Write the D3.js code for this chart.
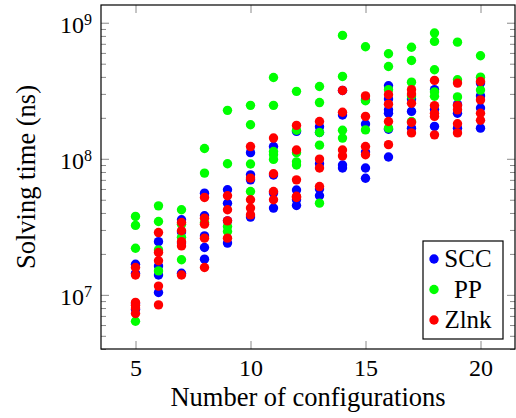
<!DOCTYPE html>
<html>
<head>
<meta charset="utf-8">
<script src="https://cdn.jsdelivr.net/npm/d3@7"></script>
<style>
body { margin: 0; background: #fff; }
svg text { fill: #000; }
</style>
</head>
<body>
<svg id="chart" width="516" height="418"></svg>
<script>
// [number of configurations, solving time in ns]
const sccData = [
  [5, 1.68e7], [5, 1.44e7], [5, 8.6e6], [5, 7.8e6],
  [6, 2.46e7], [6, 1.63e7], [6, 1.40e7], [6, 1.04e7],
  [7, 3.56e7], [7, 2.9e7], [7, 2.4e7], [7, 1.44e7],
  [8, 5.59e7], [8, 3.81e7], [8, 2.71e7], [8, 2.23e7], [8, 1.83e7],
  [9, 5.92e7], [9, 4.71e7], [9, 3.5e7], [9, 2.4e7],
  [10, 1.11e8], [10, 7.62e7], [10, 7.0e7], [10, 3.73e7],
  [11, 1.23e8], [11, 7.6e7], [11, 5.6e7], [11, 4.34e7],
  [12, 1.59e8], [12, 5.9e7], [12, 5.0e7], [12, 4.54e7],
  [13, 1.72e8], [13, 1.56e8], [13, 9.2e7], [13, 6.0e7], [13, 5.35e7],
  [14, 3.18e8], [14, 2.1e8], [14, 9.0e7], [14, 8.55e7],
  [15, 2.71e8], [15, 1.8e8], [15, 1.12e8], [15, 8.55e7], [15, 7.2e7],
  [16, 3.44e8], [16, 2.75e8], [16, 2.29e8], [16, 2.16e8], [16, 1.65e8], [16, 1.03e8],
  [17, 2.75e8], [17, 2.23e8], [17, 1.68e8],
  [18, 3.22e8], [18, 2.3e8], [18, 1.73e8],
  [19, 2.5e8], [19, 2.16e8], [19, 1.68e8],
  [20, 3.6e8], [20, 2.9e8], [20, 2.36e8], [20, 1.68e8]
];
const ppData = [
  [5, 3.77e7], [5, 3.24e7], [5, 2.2e7], [5, 6.4e6],
  [6, 4.51e7], [6, 3.46e7], [6, 2.14e7], [6, 1.50e7],
  [7, 4.22e7], [7, 3.3e7], [7, 2.65e7], [7, 1.81e7],
  [8, 1.19e8], [8, 7.85e7], [8, 3.4e7],
  [9, 2.27e8], [9, 9.19e7], [9, 3.18e7], [9, 2.92e7],
  [10, 2.47e8], [10, 1.78e8], [10, 9.15e7], [10, 5.75e7],
  [11, 3.96e8], [11, 2.47e8], [11, 1.13e8], [11, 1.07e8], [11, 9.9e7],
  [12, 3.13e8], [12, 1.62e8], [12, 1.11e8], [12, 9.5e7], [12, 9.0e7],
  [13, 3.4e8], [13, 2.59e8], [13, 1.56e8], [13, 1.26e8], [13, 4.72e7],
  [14, 8.07e8], [14, 4.03e8], [14, 1.62e8], [14, 1.42e8],
  [15, 6.66e8], [15, 2.67e8], [15, 1.63e8],
  [16, 5.92e8], [16, 4.77e8], [16, 3.22e8], [16, 1.68e8],
  [17, 6.6e8], [17, 5.28e8], [17, 3.66e8], [17, 2.9e8], [17, 1.88e8],
  [18, 8.4e8], [18, 7.29e8], [18, 4.51e8], [18, 3.1e8], [18, 2.88e8],
  [19, 7.2e8], [19, 3.81e8], [19, 2.85e8],
  [20, 5.72e8], [20, 3.98e8], [20, 3.2e8]
];
const zlnkData = [
  [5, 1.59e7], [5, 1.40e7], [5, 8.8e6], [5, 8.4e6], [5, 8.0e6], [5, 7.3e6],
  [6, 2.87e7], [6, 2.05e7], [6, 1.78e7], [6, 1.16e7], [6, 8.44e6],
  [7, 3.4e7], [7, 2.96e7], [7, 2.46e7], [7, 2.29e7], [7, 1.40e7],
  [8, 5.2e7], [8, 3.66e7], [8, 3.31e7], [8, 2.61e7], [8, 1.59e7],
  [9, 5.35e7], [9, 4.22e7], [9, 3.5e7], [9, 2.61e7],
  [10, 1.23e8], [10, 7.21e7], [10, 5.0e7], [10, 4.34e7], [10, 3.87e7],
  [11, 1.42e8], [11, 7.76e7], [11, 5.75e7], [11, 5.0e7],
  [12, 1.76e8], [12, 1.16e8], [12, 7.0e7], [12, 5.3e7], [12, 5.2e7],
  [13, 1.88e8], [13, 9.95e7], [13, 8.55e7], [13, 6.25e7],
  [14, 3.18e8], [14, 2.2e8], [14, 1.16e8], [14, 1.05e8],
  [15, 2.9e8], [15, 2.05e8], [15, 1.23e8], [15, 1.07e8],
  [16, 2.96e8], [16, 2.52e8], [16, 1.88e8], [16, 1.27e8],
  [17, 3.22e8], [17, 2.99e8], [17, 2.56e8], [17, 1.85e8], [17, 1.55e8],
  [18, 3.77e8], [18, 2.46e8], [18, 2.16e8], [18, 2.05e8], [18, 1.5e8],
  [19, 3.6e8], [19, 2.46e8], [19, 2.29e8], [19, 1.81e8], [19, 1.55e8],
  [20, 3.7e8], [20, 2.71e8], [20, 2.16e8], [20, 1.92e8]
];

const seriesNames = ["SCC", "PP", "Zlnk"];
const seriesColors = ["#0000ff", "#00ff00", "#ff0000"];
const xTicks = [5, 10, 15, 20];
const yMajor = [1e7, 1e8, 1e9];
const yExponents = [7, 8, 9];

const fLeft = 101, fRight = 515, fTop = 5, fBottom = 349;
const serif = "'Liberation Serif', 'Times New Roman', Times, 'DejaVu Serif', serif";

const svg = d3.select("#chart");

const x = d3.scaleLinear().domain([3.5, 21.5]).range([fLeft, fRight]);
const y = d3.scaleLog().domain([4e6, 1.35e9]).range([fBottom, fTop]);

// minor ticks of the log axis
const yMinor = [];
[6, 7, 8].forEach(e => {
  for (let m = 2; m <= 9; m++) {
    const v = m * Math.pow(10, e);
    if (v >= y.domain()[0] && v <= y.domain()[1]) yMinor.push(v);
  }
});

const tickColor = "#8a8a8a";

function styleAxis(g) {
  g.attr("font-family", null);
  g.select(".domain").remove();
  g.selectAll(".tick line").attr("stroke", tickColor).attr("stroke-width", 1);
}

// x ticks (bottom and top, pointing inward)
svg.append("g")
  .attr("transform", `translate(0,${fBottom})`)
  .call(d3.axisBottom(x).tickValues(xTicks).tickSize(-8).tickPadding(10))
  .call(styleAxis)
  .call(g => g.selectAll(".tick text")
    .style("font-family", serif)
    .attr("font-size", 24)
    .attr("fill", "#000"));

svg.append("g")
  .attr("transform", `translate(0,${fTop})`)
  .call(d3.axisTop(x).tickValues(xTicks).tickSize(-8).tickFormat(""))
  .call(styleAxis);

// y ticks (left and right, major + minor)
svg.append("g")
  .attr("transform", `translate(${fLeft},0)`)
  .call(d3.axisLeft(y).tickValues(yMajor).tickSize(-8).tickFormat(""))
  .call(styleAxis);
svg.append("g")
  .attr("transform", `translate(${fLeft},0)`)
  .call(d3.axisLeft(y).tickValues(yMinor).tickSize(-5).tickFormat(""))
  .call(styleAxis);
svg.append("g")
  .attr("transform", `translate(${fRight},0)`)
  .call(d3.axisRight(y).tickValues(yMajor).tickSize(-8).tickFormat(""))
  .call(styleAxis);
svg.append("g")
  .attr("transform", `translate(${fRight},0)`)
  .call(d3.axisRight(y).tickValues(yMinor).tickSize(-5).tickFormat(""))
  .call(styleAxis);

// y tick labels 10^e
const yLab = svg.append("g").selectAll("text")
  .data(yMajor)
  .enter()
  .append("text")
  .attr("x", 92)
  .attr("y", d => y(d) + 10)
  .attr("text-anchor", "end")
  .style("font-family", serif)
  .attr("font-size", 24);
yLab.append("tspan").text("10");
yLab.append("tspan")
  .attr("font-size", 16)
  .attr("dy", -8)
  .text((d, i) => yExponents[i]);

// points
const allSeries = [sccData, ppData, zlnkData];
allSeries.forEach((data, i) => {
  svg.append("g").selectAll("circle")
    .data(data)
    .enter()
    .append("circle")
    .attr("cx", d => x(d[0]))
    .attr("cy", d => y(d[1]))
    .attr("r", 4.7)
    .attr("fill", seriesColors[i]);
});

// frame
svg.append("rect")
  .attr("x", fLeft).attr("y", fTop)
  .attr("width", fRight - fLeft).attr("height", fBottom - fTop)
  .attr("fill", "none").attr("stroke", "#000").attr("stroke-width", 1.2);

// axis labels
svg.append("text")
  .attr("x", (fLeft + fRight) / 2)
  .attr("y", 406)
  .attr("text-anchor", "middle")
  .style("font-family", serif)
  .attr("font-size", 26.5)
  .text("Number of configurations");

svg.append("text")
  .attr("transform", `translate(35,${(fTop + fBottom) / 2}) rotate(-90)`)
  .attr("text-anchor", "middle")
  .style("font-family", serif)
  .attr("font-size", 26.5)
  .text("Solving time (ns)");

// legend
const legend = svg.append("g");
legend.append("rect")
  .attr("x", 423).attr("y", 241)
  .attr("width", 80).attr("height", 98)
  .attr("fill", "#fff").attr("stroke", "#000").attr("stroke-width", 1.2);

const legendY = d3.scalePoint().domain(seriesNames).range([259, 320]);
seriesNames.forEach((name, i) => {
  legend.append("circle")
    .attr("cx", 434).attr("cy", legendY(name))
    .attr("r", 4.7).attr("fill", seriesColors[i]);
  legend.append("text")
    .attr("x", 468).attr("y", legendY(name) + 8)
    .attr("text-anchor", "middle")
    .style("font-family", serif)
    .attr("font-size", 25)
    .text(name);
});
</script>
</body>
</html>
